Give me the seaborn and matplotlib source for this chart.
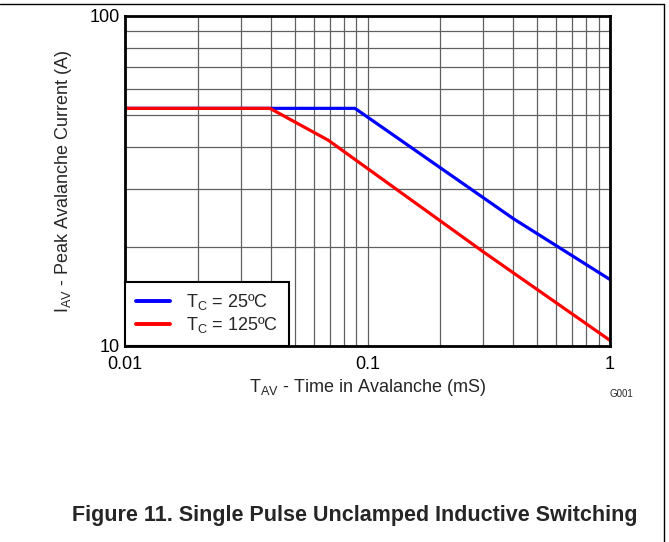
import numpy as np
import pandas as pd
import matplotlib
matplotlib.use("Agg")
import matplotlib.pyplot as plt
import matplotlib.ticker as mticker
from matplotlib.lines import Line2D
import seaborn as sns

# values (log-log)
t_25 = [0.01, 0.0888, 0.40, 1.0]
i_25 = [52.5, 52.5, 24.3, 15.9]
t_125 = [0.01, 0.0396, 0.069, 0.30, 1.0]
i_125 = [52.5, 52.5, 42.0, 19.3, 10.4]
labels = [r'T$_{\mathrm{C}}$ = 25ºC', r'T$_{\mathrm{C}}$ = 125ºC']
colors = ['#0000ff', '#ff0000']
x_ticks = [0.01, 0.1, 1]
x_ticklabels = ['0.01', '0.1', '1']
y_ticks = [10, 100]
y_ticklabels = ['10', '100']

df = pd.concat([
    pd.DataFrame({'t': t_25, 'i': i_25, 'curve': labels[0]}),
    pd.DataFrame({'t': t_125, 'i': i_125, 'curve': labels[1]}),
])

sns.set_style('white')
plt.rcParams['font.family'] = ['Liberation Sans', 'DejaVu Sans']
plt.rcParams['mathtext.fontset'] = 'custom'
plt.rcParams['mathtext.rm'] = 'Liberation Sans'
plt.rcParams['mathtext.it'] = 'Liberation Sans:italic'

fig = plt.figure(figsize=(6.69, 5.42), dpi=100)
ax = fig.add_axes([125 / 669, 1 - 346 / 542, 485 / 669, 330 / 542])

sns.lineplot(data=df, x='t', y='i', hue='curve', palette=dict(zip(labels, colors)),
             linewidth=2.3, ax=ax, legend=False, estimator=None, sort=False)

ax.set_xscale('log')
ax.set_yscale('log')
ax.set_xlim(0.01, 1)
ax.set_ylim(10, 100)
ax.xaxis.set_major_locator(mticker.FixedLocator(x_ticks))
ax.xaxis.set_major_formatter(mticker.FixedFormatter(x_ticklabels))
ax.yaxis.set_major_locator(mticker.FixedLocator(y_ticks))
ax.yaxis.set_major_formatter(mticker.FixedFormatter(y_ticklabels))
ax.xaxis.set_minor_locator(mticker.LogLocator(base=10, subs=np.arange(2, 10)))
ax.yaxis.set_minor_locator(mticker.LogLocator(base=10, subs=np.arange(2, 10)))
ax.xaxis.set_minor_formatter(mticker.NullFormatter())
ax.yaxis.set_minor_formatter(mticker.NullFormatter())
ax.tick_params(which='both', length=0, labelsize=13, colors='black')
ax.tick_params(axis='x', pad=7)
ax.tick_params(axis='y', pad=4)
for lbl in ax.get_yticklabels():
    lbl.set_verticalalignment('center_baseline')
ax.grid(which='both', color='#606060', linewidth=0.9)
for s in ax.spines.values():
    s.set_color('black')
    s.set_linewidth(2)

ax.set_xlabel(r'T$_{\mathrm{AV}}$ - Time in Avalanche (mS)', fontsize=13, labelpad=3)
ax.set_ylabel(r'I$_{\mathrm{AV}}$ - Peak Avalanche Current (A)', fontsize=13, labelpad=11)

handles = [Line2D([], [], color=c, lw=2.8) for c in colors]
leg = ax.legend(handles, labels, loc='lower left', borderaxespad=0, fontsize=13,
                handlelength=1.9, handletextpad=0.9, labelspacing=0.15,
                borderpad=0.6, fancybox=False, framealpha=1)
leg.get_frame().set_edgecolor('black')
leg.get_frame().set_linewidth(1.5)

fig.text(621 / 669, 1 - 394 / 542, 'G001', fontsize=7, ha='center', va='center')
fig.text(355 / 669, 1 - 515 / 542, 'Figure 11. Single Pulse Unclamped Inductive Switching',
         fontsize=15.5, fontweight='bold', ha='center', va='center')

# page frame lines (top and right)
fig.add_artist(Line2D([0, 663.5 / 669], [1 - 3.5 / 542, 1 - 3.5 / 542], color='black', lw=1,
                      transform=fig.transFigure))
fig.add_artist(Line2D([663.5 / 669, 663.5 / 669], [0, 1 - 3.5 / 542], color='black', lw=1,
                      transform=fig.transFigure))

fig.savefig('out.png', dpi=100)
